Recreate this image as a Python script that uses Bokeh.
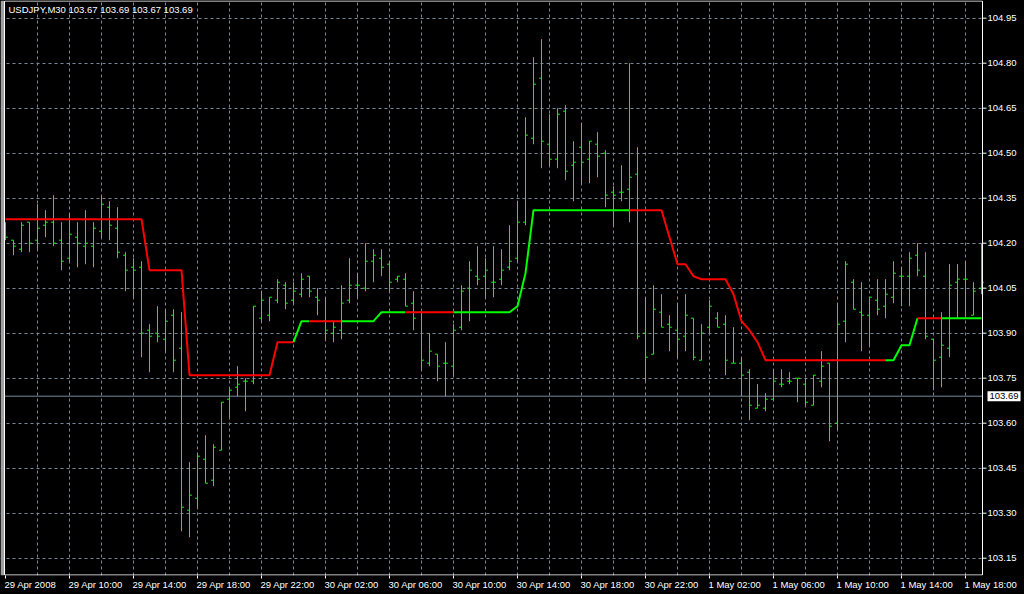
from bokeh.plotting import figure
from bokeh.models import Range1d, FixedTicker, Label, ColumnDataSource, GlobalInlineStyleSheet
from bokeh.core.properties import value
from bokeh.embed import file_html
from bokeh.resources import INLINE

# ---------------- data ----------------
symbol = "USDJPY,M30"
last_ohlc = [103.67, 103.69, 103.67, 103.69]
last_price = 103.69

opens = [104.25, 104.21, 104.18, 104.27, 104.21, 104.26, 104.27, 104.21, 104.15, 104.22,
         104.19, 104.19, 104.24, 104.32, 104.25, 104.16, 104.12, 104.12, 103.91, 103.90,
         103.88, 103.96, 103.85, 103.31, 103.35, 103.48, 103.41, 103.51, 103.68, 103.72,
         103.74, 103.74, 103.95, 103.96, 104.01, 104.06, 104.01, 104.03, 104.09, 104.02,
         103.94, 103.90, 103.91, 104.01, 104.06, 104.05, 104.14, 104.15, 104.13, 104.08,
         104.08, 104.00, 103.97, 103.80, 103.83, 103.80, 103.79, 103.92, 104.05, 104.09,
         104.09, 104.07, 104.08, 104.12, 104.15, 104.27, 104.55, 104.75, 104.53, 104.48,
         104.64, 104.46, 104.52, 104.48, 104.53, 104.50, 104.37, 104.37, 104.38, 104.43,
         103.90, 103.83, 103.97, 103.93, 103.91, 103.89, 103.95, 103.81, 103.92, 103.95,
         103.93, 103.80, 103.80, 103.77, 103.65, 103.65, 103.68, 103.73, 103.74, 103.75,
         103.73, 103.66, 103.74, 103.80, 103.60, 103.94, 104.07, 103.97, 103.96, 104.01,
         103.99, 104.02, 104.09, 104.09, 104.16, 104.09, 103.88, 103.82, 103.85, 104.07,
         104.08, 103.96, 104.05]
highs = [104.27, 104.21, 104.27, 104.27, 104.33, 104.31, 104.36, 104.27, 104.30, 104.27,
         104.31, 104.27, 104.36, 104.34, 104.32, 104.17, 104.15, 104.14, 103.93, 103.99,
         103.98, 103.98, 103.97, 103.47, 103.50, 103.56, 103.53, 103.67, 103.72, 103.79,
         103.75, 103.99, 104.04, 104.02, 104.08, 104.07, 104.07, 104.10, 104.09, 104.05,
         104.02, 103.94, 104.06, 104.15, 104.10, 104.20, 104.18, 104.18, 104.14, 104.09,
         104.10, 104.04, 103.97, 103.90, 103.83, 103.87, 103.93, 104.06, 104.14, 104.19,
         104.15, 104.19, 104.18, 104.26, 104.34, 104.62, 104.82, 104.88, 104.63, 104.65,
         104.66, 104.54, 104.60, 104.54, 104.57, 104.51, 104.39, 104.46, 104.80, 104.52,
         104.02, 104.06, 104.03, 103.96, 104.00, 104.03, 103.95, 103.93, 104.01, 103.97,
         103.96, 103.92, 103.82, 103.78, 103.73, 103.70, 103.78, 103.78, 103.77, 103.75,
         103.75, 103.76, 103.84, 103.80, 104.00, 104.14, 104.08, 104.07, 104.02, 104.08,
         104.08, 104.14, 104.12, 104.17, 104.20, 104.17, 103.88, 103.97, 104.13, 104.13,
         104.14, 104.07, 104.20]
lows = [104.21, 104.16, 104.17, 104.17, 104.18, 104.22, 104.19, 104.11, 104.14, 104.12,
        104.13, 104.12, 104.22, 104.21, 104.15, 104.04, 104.02, 103.82, 103.77, 103.87,
        103.84, 103.77, 103.24, 103.22, 103.32, 103.40, 103.39, 103.51, 103.62, 103.69,
        103.64, 103.73, 103.94, 103.94, 104.00, 103.98, 104.00, 104.02, 104.02, 103.96,
        103.88, 103.87, 103.88, 104.00, 104.02, 104.04, 104.07, 104.09, 104.04, 104.07,
        103.99, 103.91, 103.78, 103.79, 103.74, 103.69, 103.76, 103.91, 103.94, 104.06,
        104.02, 104.02, 104.06, 104.11, 104.14, 104.26, 104.53, 104.45, 104.46, 104.45,
        104.41, 104.34, 104.40, 104.40, 104.42, 104.32, 104.26, 104.34, 104.27, 103.88,
        103.74, 103.83, 103.92, 103.84, 103.82, 103.84, 103.81, 103.81, 103.90, 103.92,
        103.76, 103.80, 103.69, 103.61, 103.65, 103.64, 103.68, 103.72, 103.73, 103.67,
        103.66, 103.66, 103.72, 103.54, 103.58, 103.87, 103.98, 103.84, 103.86, 103.96,
        103.95, 104.00, 103.99, 103.99, 104.09, 103.88, 103.71, 103.72, 103.82, 103.95,
        103.96, 103.96, 104.03]
closes = [104.22, 104.19, 104.26, 104.20, 104.25, 104.27, 104.20, 104.14, 104.23, 104.20,
          104.20, 104.25, 104.33, 104.26, 104.17, 104.11, 104.11, 103.90, 103.89, 103.89,
          103.94, 103.81, 103.32, 103.36, 103.49, 103.40, 103.52, 103.67, 103.71, 103.73,
          103.74, 103.99, 104.01, 104.02, 104.07, 104.00, 104.04, 104.08, 104.04, 104.01,
          103.91, 103.92, 104.00, 104.06, 104.06, 104.14, 104.16, 104.12, 104.07, 104.09,
          103.99, 103.95, 103.81, 103.84, 103.79, 103.80, 103.91, 104.04, 104.11, 104.08,
          104.11, 104.07, 104.11, 104.14, 104.27, 104.56, 104.73, 104.54, 104.48, 104.63,
          104.44, 104.47, 104.47, 104.54, 104.49, 104.36, 104.36, 104.37, 104.42, 103.89,
          103.82, 103.98, 103.92, 103.92, 103.88, 103.96, 103.82, 103.90, 103.99, 103.92,
          103.81, 103.80, 103.76, 103.66, 103.66, 103.68, 103.74, 103.73, 103.74, 103.75,
          103.67, 103.76, 103.79, 103.59, 103.93, 104.13, 103.98, 103.96, 104.02, 103.98,
          104.03, 104.10, 104.09, 104.15, 104.11, 103.89, 103.81, 103.86, 104.06, 104.08,
          104.08, 104.04, 104.07]

# trailing indicator value per bar and its trend state (D = down / red, U = up / green)
trail = ([104.28] * 18 + [104.11] * 5 + [103.76] * 11 + [103.87] * 3 + [103.94] * 10 +
         [103.97] * 17 + [103.99, 104.10] + [104.31] * 17 +
         [104.22, 104.13, 104.13, 104.09, 104.08, 104.08, 104.08, 104.08,
          104.03, 103.94, 103.91, 103.87] +
         [103.81] * 17 + [103.86, 103.86] + [103.95] * 9)
trend = list("DDDDDDDDDD" "DDDDDDDDDD" "DDDDDDDDDD" "DDDDDDUUDD" "DDUUUUUUUU"
             "DDDDDDUUUU" "UUUUUUUUUU" "UUUUUUUUDD" "DDDDDDDDDD" "DDDDDDDDDD"
             "DDDDDDDDDD" "UUUUDDDUUU" "UUU")

time_labels = ["29 Apr 2008", "29 Apr 10:00", "29 Apr 14:00", "29 Apr 18:00",
               "29 Apr 22:00", "30 Apr 02:00", "30 Apr 06:00", "30 Apr 10:00",
               "30 Apr 14:00", "30 Apr 18:00", "30 Apr 22:00", "1 May 02:00",
               "1 May 06:00", "1 May 10:00", "1 May 14:00", "1 May 18:00"]
bars_per_label = 8
bars_per_grid = 4
price_ticks = [103.15, 103.30, 103.45, 103.60, 103.75, 103.90, 104.05,
               104.20, 104.35, 104.50, 104.65, 104.80, 104.95]

# ---------------- styling / layout ----------------
BG = "#000000"
FG = "#ffffff"
GRID = "#778899"
BAR = "#00ff00"
COL = {"D": "#ff0000", "U": "#00ff00"}
FONT = "Liberation Sans"
FS = 9.5

FRAME_W, FRAME_H = 1024, 575
PX_PER_BAR = 8.0                      # one 30-minute bar = 8 px
PX_PER_YEN = 300.0                    # 1.00 JPY = 300 px
X0 = -5.0 / PX_PER_BAR                # bar 0 sits 5 px from the left edge
X_END = X0 + FRAME_W / PX_PER_BAR
Y1 = 103.60 + 422.7 / PX_PER_YEN      # price at the top edge
Y0 = Y1 - FRAME_H / PX_PER_YEN


def xd(px):   # horizontal pixel -> data
    return X0 + px / PX_PER_BAR


def yd(py):   # vertical pixel (from top) -> data
    return Y1 - py / PX_PER_YEN


XL = xd(4.0)     # left chart border
XE = xd(982.0)   # right chart border
YT = yd(0.5)     # top chart border
YB = yd(574.5)   # bottom chart border

p = figure(frame_width=FRAME_W, frame_height=FRAME_H,
           x_range=Range1d(X0, X_END), y_range=Range1d(Y0, Y1),
           y_axis_location=None, output_backend="svg", toolbar_location=None,
           min_border=0, background_fill_color=BG, border_fill_color=BG,
           outline_line_color=None)
p.stylesheets = [GlobalInlineStyleSheet(css="html, body { background: #000000; }")]

n = len(opens)
xs = list(range(n))
tick_len = 0.3
src = ColumnDataSource(dict(x=xs, xl=[x - tick_len for x in xs], xr=[x + tick_len for x in xs],
                            o=opens, h=highs, l=lows, c=closes))

# grid
p.xgrid.ticker = FixedTicker(ticks=list(range(bars_per_grid, n - 1, bars_per_grid)))
p.ygrid.ticker = FixedTicker(ticks=price_ticks)
for g in (p.xgrid, p.ygrid):
    g.grid_line_color = GRID
    g.grid_line_dash = "3 3"
    g.grid_line_width = 1

# price-scale area (right of the chart) is plain black; window edge on the left
p.quad(left=[XE], right=[X_END], bottom=[Y0], top=[Y1], fill_color=BG, line_color=None)
p.quad(left=[X0], right=[xd(3.5)], bottom=[Y0], top=[Y1], fill_color="#a0a0a0", line_color=None)

# last price line
p.segment(x0=[XL], y0=[last_price], x1=[XE], y1=[last_price], line_color=GRID, line_width=1)

# OHLC bars
p.segment(x0="x", y0="l", x1="x", y1="h", source=src, line_color=BAR, line_width=1)
p.segment(x0="xl", y0="o", x1="x", y1="o", source=src, line_color=BAR, line_width=1)
p.segment(x0="x", y0="c", x1="xr", y1="c", source=src, line_color=BAR, line_width=1)

# trailing line coloured by trend
runs_x, runs_y, runs_c = [], [], []
for i in range(n - 1):
    col = COL[trend[i]]
    if runs_c and runs_c[-1] == col and runs_x[-1][-1] == i:
        runs_x[-1].append(i + 1)
        runs_y[-1].append(trail[i + 1])
    else:
        runs_x.append([i, i + 1])
        runs_y.append([trail[i], trail[i + 1]])
        runs_c.append(col)
p.multi_line(xs=runs_x, ys=runs_y, line_color=runs_c, line_width=2)

# chart border
p.segment(x0=[XL, XL, XL, XE], y0=[YB, YT, YB, YB], x1=[XE, XE, XL, XE], y1=[YB, YT, YT, YT],
          line_color=FG, line_width=1)

# price scale on the right
p.segment(x0=[XE] * len(price_ticks), y0=price_ticks, x1=[xd(986.0)] * len(price_ticks),
          y1=price_ticks, line_color=FG, line_width=1)
p.text(x=[XE] * len(price_ticks), y=price_ticks, text=[f"{v:.2f}" for v in price_ticks],
       x_offset=5, text_baseline="middle", text_align="left", text_color=FG,
       text_font=value(FONT), text_font_size=value(f"{FS}px"))
p.add_layout(Label(x=XE, y=last_price, x_offset=5, text=f"{last_price:.2f}",
                   text_color="#000000", text_font=FONT, text_font_size=f"{FS}px",
                   text_baseline="middle", text_align="left", padding=2,
                   background_fill_color="#ffffff", border_line_color=None))

# bottom time axis: tick marks at label starts, labels left-aligned after them
W = {"0": .556, "1": .556, "2": .556, "3": .556, "4": .556, "5": .556, "6": .556,
     "7": .556, "8": .556, "9": .556, " ": .278, ":": .278, "A": .667, "p": .556,
     "r": .333, "M": .833, "a": .556, "y": .5}
tick_pos = [k * bars_per_label for k in range(len(time_labels))]
centers, overrides = [], {}
for t, lab in zip(tick_pos, time_labels):
    wpx = sum(W.get(ch, .556) for ch in lab) * FS
    cx = round(t + (wpx / 2 - 1) / PX_PER_BAR, 3)
    centers.append(cx)
    overrides[cx] = lab
xa = p.xaxis[0]
xa.ticker = FixedTicker(ticks=centers, minor_ticks=tick_pos)
xa.major_label_overrides = overrides
xa.axis_line_color = None
xa.major_tick_line_color = None
xa.major_tick_out = 3
xa.major_tick_in = 0
xa.minor_tick_line_color = FG
xa.minor_tick_out = 3
xa.minor_tick_in = 0
xa.major_label_standoff = 0
xa.major_label_text_color = FG
xa.major_label_text_font = FONT
xa.major_label_text_font_size = f"{FS}px"

# title
title_txt = symbol + "  " + " ".join(f"{v:.2f}" for v in last_ohlc)
p.add_layout(Label(x=xd(8), y=Y1, y_offset=-3, text=title_txt,
                   text_color=FG, text_font=FONT, text_font_size=f"{FS}px",
                   text_baseline="top", text_align="left"))

open("out.html", "w").write(file_html(p, INLINE))
